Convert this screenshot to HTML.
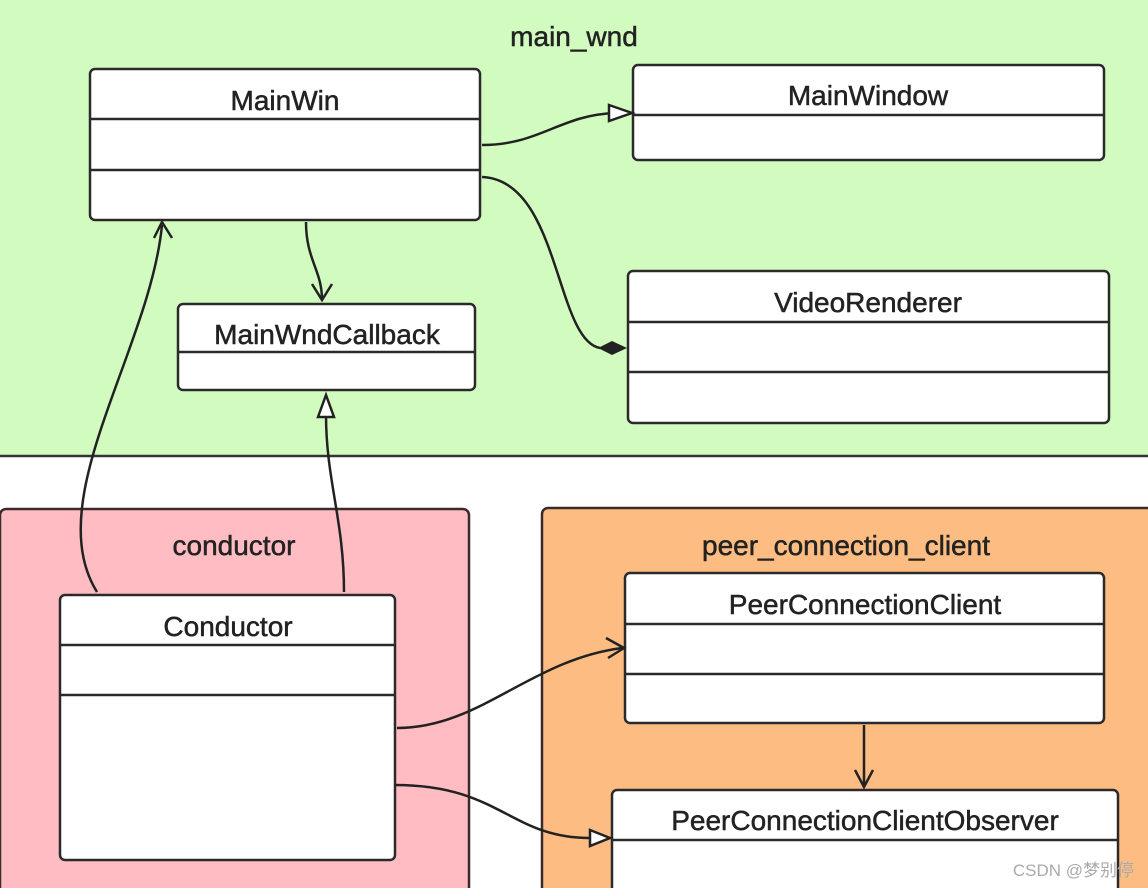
<!DOCTYPE html>
<html><head><meta charset="utf-8"><style>
html,body{margin:0;padding:0;width:1148px;height:888px;overflow:hidden;background:#fff}
svg text{font-family:"Liberation Sans",sans-serif;fill:#222;stroke:#222;stroke-width:0.5}
</style></head><body>
<svg width="1148" height="888" viewBox="0 0 1148 888" xmlns="http://www.w3.org/2000/svg">
<rect x="0" y="0" width="1148" height="456" fill="#d2fcbf"/>
<line x1="0" y1="456" x2="1148" y2="456" stroke="#333" stroke-width="2.5"/>
<rect x="0" y="509" width="469" height="390" rx="6" fill="#ffbcc3" stroke="#3a2a2a" stroke-width="2.5"/>
<rect x="542" y="508" width="620" height="390" rx="6" fill="#fdbd82" stroke="#3a2a2a" stroke-width="2.5"/>
<text x="574" y="46" font-size="28" text-anchor="middle">main_wnd</text>
<text x="234" y="555" font-size="28" text-anchor="middle">conductor</text>
<text x="846" y="555" font-size="28" text-anchor="middle">peer_connection_client</text>
<g fill="#fff" stroke="#2a2a2a" stroke-width="2.5">
<rect x="90" y="69" width="390" height="151" rx="5"/>
<line x1="90" y1="119" x2="480" y2="119"/><line x1="90" y1="170" x2="480" y2="170"/>
<rect x="633" y="65" width="471" height="95" rx="5"/>
<line x1="633" y1="115" x2="1104" y2="115"/>
<rect x="178" y="304" width="297" height="86" rx="5"/>
<line x1="178" y1="352" x2="475" y2="352"/>
<rect x="628" y="271" width="481" height="152" rx="5"/>
<line x1="628" y1="322" x2="1109" y2="322"/><line x1="628" y1="372" x2="1109" y2="372"/>
<rect x="60" y="595" width="335" height="265" rx="5"/>
<line x1="60" y1="645" x2="395" y2="645"/><line x1="60" y1="695" x2="395" y2="695"/>
<rect x="625" y="573" width="479" height="150" rx="5"/>
<line x1="625" y1="624" x2="1104" y2="624"/><line x1="625" y1="674" x2="1104" y2="674"/>
<rect x="612" y="790" width="506" height="110" rx="5"/>
<line x1="612" y1="840" x2="1118" y2="840"/>
</g>
<g font-size="28" text-anchor="middle">
<text x="285" y="110">MainWin</text>
<text x="868" y="105">MainWindow</text>
<text x="327" y="344">MainWndCallback</text>
<text x="868" y="312">VideoRenderer</text>
<text x="228" y="636">Conductor</text>
<text x="865" y="614">PeerConnectionClient</text>
<text x="865" y="830">PeerConnectionClientObserver</text>
</g>
<g fill="none" stroke="#222" stroke-width="2.5">
<path d="M482 145 C540 145 560 115 615 113"/>
<path d="M482 177 C560 180 555 340 600 348"/>
<path d="M306 222 C306 260 322 270 322 300"/>
<path d="M312 284 L322 300 L332 284"/>
<path d="M97 592 C40 500 150 350 162 225"/>
<path d="M154 238 L162 222 L172 238"/>
<path d="M344 592 C344 520 326 480 326 415"/>
<path d="M397 728 C480 728 530 660 622 648"/>
<path d="M606 638 L624 648 L608 658"/>
<path d="M864 725 L864 787"/>
<path d="M855 770 L864 787 L873 770"/>
<path d="M395 785 C500 785 510 838 590 838"/>
</g>
<polygon points="609,105 632,113 609,121" fill="#fff" stroke="#222" stroke-width="2.5"/>
<polygon points="318,417 326,395 334,417" fill="#fff" stroke="#222" stroke-width="2.5"/>
<polygon points="590,830 610,838 590,846" fill="#fff" stroke="#222" stroke-width="2.5"/>
<polygon points="598,348 612,341 627,348 612,355" fill="#222"/>
<text x="1134" y="876" font-size="17" text-anchor="end" style="fill:#aaa;stroke:none">CSDN @梦别停</text>
</svg>
</body></html>
